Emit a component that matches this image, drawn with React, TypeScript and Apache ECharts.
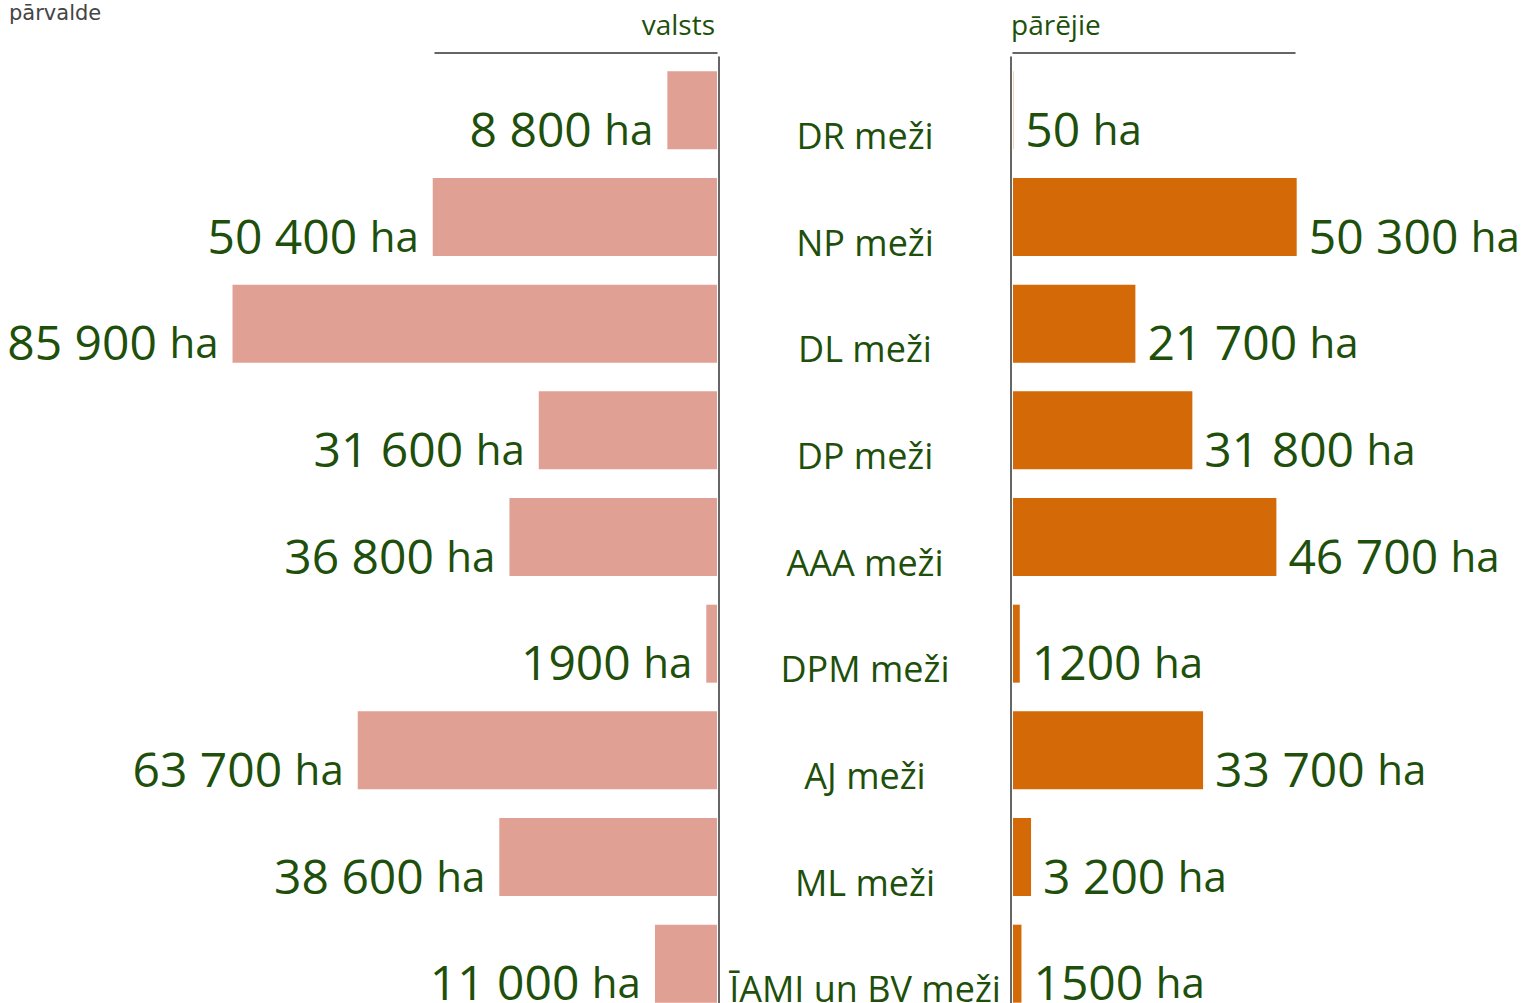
import React, { useEffect, useRef } from "react";
import * as echarts from "echarts";

const categories = [
  "DR meži",
  "NP meži",
  "DL meži",
  "DP meži",
  "AAA meži",
  "DPM meži",
  "AJ meži",
  "ML meži",
  "ĪAMI un BV meži",
];
const stateValues = [8800, 50400, 85900, 31600, 36800, 1900, 63700, 38600, 11000];
const otherValues = [50, 50300, 21700, 31800, 46700, 1200, 33700, 3200, 1500];
const stateLabels = ["8 800", "50 400", "85 900", "31 600", "36 800", "1900", "63 700", "38 600", "11 000"];
const otherLabels = ["50", "50 300", "21 700", "31 800", "46 700", "1200", "33 700", "3 200", "1500"];
const unit = "ha";
const leftHeader = "valsts";
const rightHeader = "pārējie";
const cornerTitle = "pārvalde";

const GREEN = "#1e4f0b";
const LINE = "#333333";

export default function App() {
  const ref = useRef<HTMLDivElement>(null);
  useEffect(() => {
    if (!ref.current) return;
    const chart = echarts.init(ref.current, undefined, { renderer: "svg" });
    const rich = {
      n: { fontFamily: "Open Sans", fontSize: 48, color: GREEN },
      u: { fontFamily: "Open Sans", fontSize: 42, color: GREEN },
    };
    const headerStyle = { fontFamily: "Open Sans", fontSize: 28, fontWeight: "normal", color: GREEN };
    const option = {
      animation: false,
      title: [
        {
          text: cornerTitle,
          left: 4,
          top: -3,
          textStyle: { fontFamily: "DejaVu Sans", fontSize: 21, fontWeight: "normal", color: "#444" },
        },
        { text: leftHeader, right: 1530 - 720, top: 5, textStyle: headerStyle },
        { text: rightHeader, left: 1006, top: 5, textStyle: headerStyle },
      ],
      grid: [
        { left: 435, width: 282, top: 57, height: 960 },
        { left: 1013, width: 282, top: 57, height: 960 },
      ],
      xAxis: [
        {
          gridIndex: 0,
          type: "value",
          min: 0,
          max: 50000,
          inverse: true,
          position: "top",
          offset: 4,
          axisLine: { show: true, lineStyle: { color: LINE, width: 1.5 } },
          axisTick: { show: false },
          axisLabel: { show: false },
          splitLine: { show: false },
        },
        {
          gridIndex: 1,
          type: "value",
          min: 0,
          max: 50000,
          position: "top",
          offset: 4,
          axisLine: { show: true, lineStyle: { color: LINE, width: 1.5 } },
          axisTick: { show: false },
          axisLabel: { show: false },
          splitLine: { show: false },
        },
      ],
      yAxis: [
        {
          gridIndex: 0,
          type: "category",
          data: categories,
          inverse: true,
          position: "right",
          offset: 2,
          axisLine: { show: true, onZero: false, lineStyle: { color: LINE, width: 1.5 } },
          axisTick: { show: false },
          axisLabel: {
            show: true,
            margin: 146,
            align: "center",
            verticalAlign: "top",
            lineHeight: 50,
            fontFamily: "Open Sans",
            fontSize: 36,
            color: GREEN,
          },
        },
        {
          gridIndex: 1,
          type: "category",
          data: categories,
          inverse: true,
          position: "left",
          offset: 2,
          axisLine: { show: true, onZero: false, lineStyle: { color: LINE, width: 1.5 } },
          axisTick: { show: false },
          axisLabel: { show: false },
        },
      ],
      series: [
        {
          type: "bar",
          xAxisIndex: 0,
          yAxisIndex: 0,
          data: stateValues,
          barWidth: 78,
          clip: false,
          itemStyle: { color: "#e0a094" },
          label: {
            show: true,
            position: "left",
            distance: 14,
            offset: [0, 18],
            formatter: (p: any) => `{n|${stateLabels[p.dataIndex]} }{u|${unit}}`,
            rich,
          },
        },
        {
          type: "bar",
          xAxisIndex: 1,
          yAxisIndex: 1,
          data: otherValues,
          barWidth: 78,
          clip: false,
          itemStyle: { color: "#d46907" },
          label: {
            show: true,
            position: "right",
            distance: 12,
            offset: [0, 18],
            formatter: (p: any) => `{n|${otherLabels[p.dataIndex]} }{u|${unit}}`,
            rich,
          },
        },
      ],
    };
    chart.setOption(option as any);
    return () => chart.dispose();
  }, []);
  return (
    <div
      style={{ position: "absolute", left: 0, top: 0, width: 1530, height: 1003, overflow: "hidden", background: "#fff" }}
    >
      <div ref={ref} style={{ width: 1530, height: 1030 }} />
    </div>
  );
}
